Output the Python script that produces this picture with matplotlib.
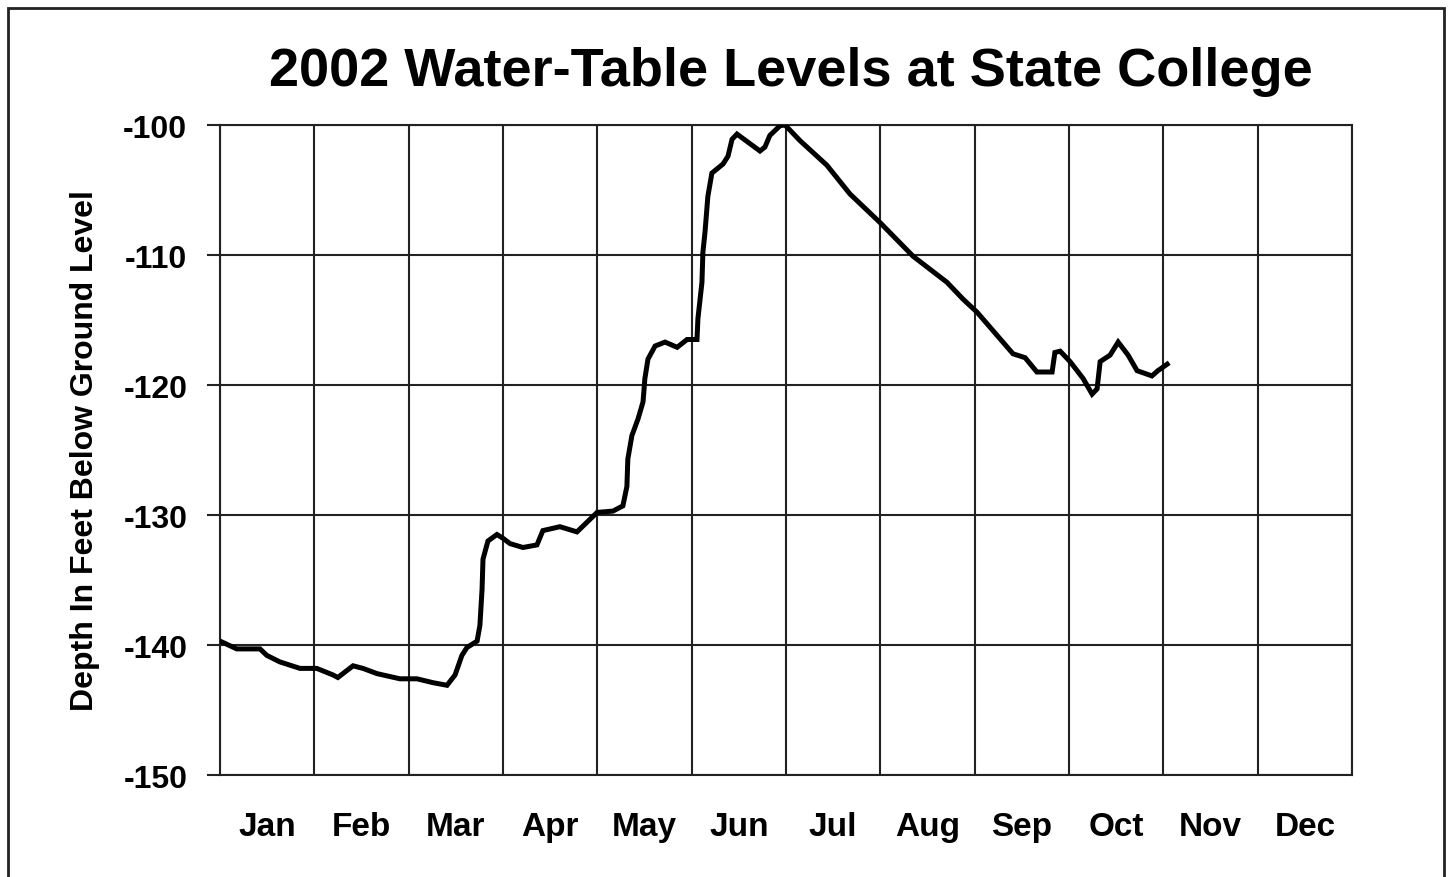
import matplotlib.pyplot as plt
from matplotlib.patches import Rectangle
import numpy as np

# Day of year (0 = Jan 1) and water-table depth (ft, negative = below ground)
days = [0, 5.4, 12.9, 15.1, 19.3, 25.8, 31.2, 36.4, 38, 42.9, 46.1, 50.6, 58,
        63.5, 68.7, 73.2, 75.8, 78, 79.6, 82.9, 83.8, 84.5, 84.8, 86.4, 89.3,
        91.3, 93.5, 97.7, 102.2, 104.1, 109.6, 115.1, 117.7, 121.6, 126.7,
        129.9, 131.2, 131.5, 132.8, 134.8, 136.4, 137, 138, 140.3, 143.5,
        147.4, 150.6, 153.8, 154.1, 155.4, 155.7, 156.4, 157.3, 158.6, 162.2,
        163.8, 165.1, 166.7, 174.1, 175.7, 177.3, 180.6, 182.2, 187, 195.7,
        203.1, 212.8, 223.5, 234.4, 239.6, 244.1, 255.7, 259.6, 263.4, 268.3,
        269.2, 270.9, 274.1, 278.3, 281.2, 282.8, 283.8, 287, 289.6, 292.8,
        295.7, 300.5, 302.4, 305.4]
depth = [-139.7, -140.3, -140.3, -140.8, -141.3, -141.8, -141.8, -142.3, -142.5,
         -141.6, -141.8, -142.2, -142.6, -142.6, -142.9, -143.1, -142.3, -140.8,
         -140.2, -139.7, -138.5, -135.7, -133.4, -132.0, -131.5, -131.8, -132.2,
         -132.5, -132.3, -131.2, -130.9, -131.3, -130.7, -129.8, -129.7, -129.3,
         -127.8, -125.7, -123.9, -122.6, -121.3, -119.5, -118.0, -117.0, -116.7,
         -117.1, -116.5, -116.5, -114.9, -112.1, -109.8, -108.2, -105.5, -103.7,
         -103.0, -102.4, -101.1, -100.7, -102.0, -101.7, -100.8, -100.05, -100.0,
         -101.2, -103.1, -105.3, -107.5, -110.1, -112.1, -113.4, -114.4, -117.6,
         -117.9, -119.0, -119.0, -117.5, -117.4, -118.2, -119.5, -120.7, -120.3,
         -118.2, -117.7, -116.7, -117.7, -118.9, -119.3, -118.9, -118.4]

months = ['Jan', 'Feb', 'Mar', 'Apr', 'May', 'Jun',
          'Jul', 'Aug', 'Sep', 'Oct', 'Nov', 'Dec']
y_ticks = [-150, -140, -130, -120, -110, -100]

font = ['Liberation Sans', 'DejaVu Sans']

fig = plt.figure(figsize=(14.48, 8.78), dpi=100)
ax = fig.add_axes([220 / 1448, 1 - 776 / 878, 1132 / 1448, 650 / 878])

# months drawn as equal-width columns
x = np.array(days) * 12 / 365
ax.plot(x, depth, color='black', lw=3.6, solid_joinstyle='miter', zorder=3)

ax.set_xlim(0, 12)
ax.set_ylim(-150, -100)
ax.set_xticks(np.arange(13))
ax.set_xticklabels([])
ax.set_xticks(np.arange(12) + 0.5, minor=True)
ax.set_xticklabels(months, minor=True, fontsize=24, fontweight='bold', family=font)
ax.tick_params(axis='x', which='both', length=0, pad=26)
ax.set_yticks(y_ticks)
ax.set_yticklabels([str(v) for v in y_ticks], fontsize=23, fontweight='bold', family=font)
ax.tick_params(axis='y', length=9.5, width=1.5, pad=14, color='#222222')
ax.grid(True, which='major', color='#222222', lw=1.5)
for s in ax.spines.values():
    s.set_color('#222222')
    s.set_linewidth(1.5)

ax.set_ylabel('Depth In Feet Below Ground Level', fontsize=23, fontweight='bold',
              family=font, labelpad=17)
fig.text(791 / 1448, 1 - 72 / 878, '2002 Water-Table Levels at State College',
         ha='center', va='center', fontsize=39, fontweight='bold', family=font)

# outer frame (bottom edge runs off the image)
fig.patches.append(Rectangle((8 / 1448, -0.05), 1436 / 1448, 1.05 - 9 / 878,
                             transform=fig.transFigure, fill=False,
                             lw=2, edgecolor='#222222'))

fig.savefig('out.png', dpi=100)
